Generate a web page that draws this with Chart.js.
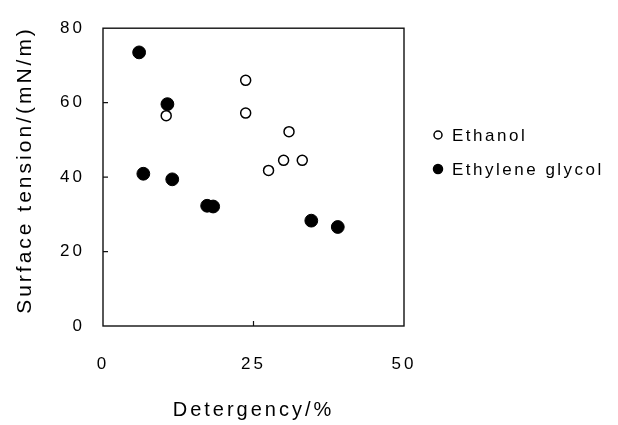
<!DOCTYPE html>
<html>
<head>
<meta charset="utf-8">
<script src="https://cdn.jsdelivr.net/npm/chart.js@4"></script>
<style>
  html, body { margin: 0; padding: 0; background: #fff; }
  #wrap { width: 618px; height: 425px; }
</style>
</head>
<body>
<div id="wrap"><canvas id="chart" width="618" height="425"></canvas></div>
<script>
// values
const ethanolX = [10.5, 23.7, 23.7, 30.9, 27.5, 30.0, 33.1];
const ethanolY = [56.5, 66.0, 57.2, 52.2, 41.8, 44.5, 44.5];
const glycolX = [6.0, 10.7, 6.7, 11.5, 17.3, 18.3, 34.6, 39.0];
const glycolY = [73.5, 59.6, 40.9, 39.4, 32.3, 32.1, 28.3, 26.6];
const seriesNames = ['Ethanol', 'Ethylene glycol'];
const xTicks = [0, 25, 50];
const yTicks = [0, 20, 40, 60, 80];
const xTitle = 'Detergency/%';
const yTitle = 'Surface tension/(mN/m)';

const FONT = "'Liberation Sans', Arial, sans-serif";
Chart.defaults.color = '#000';
Chart.defaults.font.family = FONT;

const toPoints = (xs, ys) => xs.map((x, i) => ({ x: x, y: ys[i] }));

// frame, inward tick marks, y title and the legend
const framePlugin = {
  id: 'frame',
  beforeDraw(chart) {
    chart.ctx.letterSpacing = '3px';
  },
  afterDraw(chart) {
    const ctx = chart.ctx;
    const a = chart.chartArea;
    const xs = chart.scales.x, ys = chart.scales.y;
    ctx.save();
    ctx.strokeStyle = '#111';
    ctx.lineWidth = 1.4;
    ctx.strokeRect(a.left, a.top, a.right - a.left, a.bottom - a.top);
    ctx.lineWidth = 1.2;
    ctx.beginPath();
    yTicks.slice(1, -1).forEach(v => {
      const p = ys.getPixelForValue(v);
      ctx.moveTo(a.left, p);
      ctx.lineTo(a.left + 5, p);
    });
    xTicks.slice(1, -1).forEach(v => {
      const p = xs.getPixelForValue(v);
      ctx.moveTo(p, a.bottom);
      ctx.lineTo(p, a.bottom - 5);
    });
    ctx.stroke();

    // y title
    ctx.save();
    ctx.translate(25, 170);
    ctx.rotate(-Math.PI / 2);
    ctx.font = '21px ' + FONT;
    ctx.letterSpacing = '3px';
    ctx.textAlign = 'center';
    ctx.textBaseline = 'middle';
    ctx.fillStyle = '#000';
    ctx.fillText(yTitle, 0, 0);
    ctx.restore();

    // legend
    ctx.font = '17px ' + FONT;
    ctx.letterSpacing = '2.5px';
    ctx.textBaseline = 'middle';
    ctx.textAlign = 'left';
    const rows = [135, 169];
    chart.data.datasets.forEach((ds, i) => {
      const y = rows[i];
      ctx.beginPath();
      ctx.arc(438, y, ds.legendRadius, 0, Math.PI * 2);
      ctx.fillStyle = ds.backgroundColor;
      ctx.fill();
      ctx.lineWidth = 1.5;
      ctx.strokeStyle = '#000';
      ctx.stroke();
      ctx.fillStyle = '#000';
      ctx.fillText(ds.label, 452, y + 1);
    });
    ctx.restore();
  }
};

new Chart(document.getElementById('chart'), {
  type: 'scatter',
  data: {
    datasets: [
      {
        label: seriesNames[0],
        data: toPoints(ethanolX, ethanolY),
        backgroundColor: '#fff',
        borderColor: '#000',
        borderWidth: 1.5,
        pointRadius: 5,
        legendRadius: 4,
        order: 1
      },
      {
        label: seriesNames[1],
        data: toPoints(glycolX, glycolY),
        backgroundColor: '#000',
        borderColor: '#000',
        borderWidth: 1,
        pointRadius: 6.4,
        legendRadius: 4.5,
        order: 0
      }
    ]
  },
  options: {
    responsive: false,
    animation: false,
    layout: { padding: { left: 0, top: 21, right: 214, bottom: 0 } },
    plugins: { legend: { display: false }, tooltip: { enabled: false } },
    scales: {
      x: {
        type: 'linear',
        min: 0, max: 50,
        afterFit: s => { s.height = 99; },
        afterBuildTicks: s => { s.ticks = xTicks.map(v => ({ value: v })); },
        grid: { display: false, drawTicks: false },
        border: { display: false },
        ticks: { font: { size: 17 }, padding: 28, maxRotation: 0 },
        title: { display: true, text: xTitle, font: { size: 20 }, padding: { top: 0, bottom: 3 } }
      },
      y: {
        type: 'linear',
        min: 0, max: 80,
        afterFit: s => { s.width = 103; },
        afterBuildTicks: s => { s.ticks = yTicks.map(v => ({ value: v })); },
        grid: { display: false, drawTicks: false },
        border: { display: false },
        ticks: { font: { size: 17 }, padding: 18 },
        title: { display: false }
      }
    }
  },
  plugins: [framePlugin]
});
</script>
</body>
</html>
